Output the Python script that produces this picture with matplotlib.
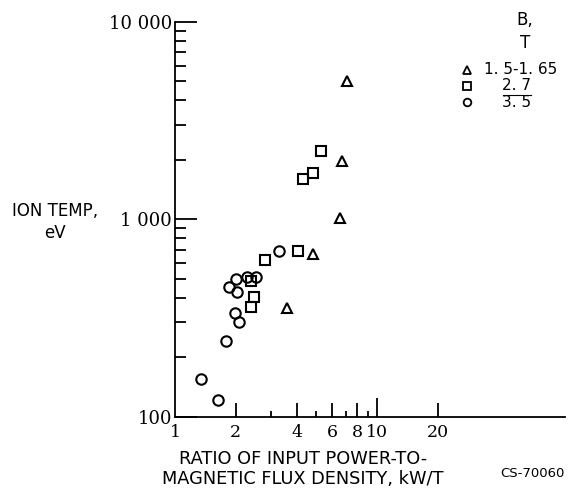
"""Ion temperature vs ratio of input power to magnetic flux density (log-log scatter)."""

import matplotlib.pyplot as plt
from matplotlib.ticker import FixedLocator, NullFormatter

# B = 1.5-1.65 T (triangles)
tri_x = [7.1, 6.7, 6.55, 4.8, 3.6]
tri_y = [5000, 1980, 1020, 670, 355]

# B = 2.7 T (squares)
sq_x = [5.3, 4.8, 4.3, 4.05, 2.8, 2.37, 2.46, 2.39]
sq_y = [2220, 1710, 1590, 690, 620, 486, 404, 360]

# B = 3.5 T (circles)
circ_x = [3.28, 2.26, 2.51, 2.0, 1.85, 2.02, 1.98, 2.07, 1.78, 1.34, 1.64]
circ_y = [690, 512, 512, 500, 454, 430, 336, 302, 241, 156, 121]

x_major = [1, 2, 4, 6, 8, 10, 20]
x_minor = [3, 5, 7, 9]
y_major = [100, 1000, 10000]
y_labels = ["100", "1 000", "10 000"]

legend_rows = [("^", "1. 5-1. 65"), ("s", "2. 7"), ("o", "3. 5")]

TXT = "DejaVu Sans"
NUM = "DejaVu Serif"
W, H = 580, 494


def fx(px):
    return px / W


def fy(py):
    return 1 - py / H


def main() -> int:
    fig = plt.figure(figsize=(5.8, 4.94), dpi=100)
    ax = fig.add_axes([fx(175), fy(416.7), 390 / W, 395 / H])

    style = dict(linestyle="none", markerfacecolor="none", markeredgecolor="black",
                 markeredgewidth=1.5, clip_on=False)
    ax.plot(tri_x, tri_y, marker="^", markersize=7.5, **style)
    ax.plot(sq_x, sq_y, marker="s", markersize=6.8, **style)
    ax.plot(circ_x, circ_y, marker="o", markersize=7.5, **style)

    ax.set_xscale("log")
    ax.set_yscale("log")
    ax.set_xlim(1, 85.2)
    ax.set_ylim(100, 10000)

    ax.spines["top"].set_visible(False)
    ax.spines["right"].set_visible(False)
    for s in ("left", "bottom"):
        ax.spines[s].set_linewidth(1.3)

    ax.xaxis.set_major_locator(FixedLocator(x_major))
    ax.xaxis.set_minor_locator(FixedLocator(x_minor))
    ax.set_xticklabels([str(v) for v in x_major], fontfamily=NUM, fontsize=12.5)
    ax.xaxis.set_minor_formatter(NullFormatter())
    ax.set_yticks(y_major)
    ax.set_yticklabels(y_labels, fontfamily=NUM, fontsize=13)
    ax.yaxis.set_minor_formatter(NullFormatter())

    ax.tick_params(axis="x", which="major", direction="in", length=10, width=1.3, pad=5)
    ax.tick_params(axis="x", which="minor", direction="in", length=4, width=1.3)
    ax.tick_params(axis="y", which="major", direction="in", length=16, width=1.3, pad=2)
    ax.tick_params(axis="y", which="minor", direction="in", length=8, width=1.3)
    # the decade tick at 10 is drawn taller in the original
    ax.xaxis.get_major_ticks()[5].tick1line.set_markersize(14)
    ax.xaxis.get_major_ticks()[0].tick1line.set_visible(False)

    fig.text(fx(55), fy(222), "ION TEMP,\neV", ha="center", va="center",
             fontfamily=TXT, fontsize=12, linespacing=1.26)
    fig.text(fx(303), fy(469),
             "RATIO OF INPUT POWER-TO-\nMAGNETIC FLUX DENSITY, kW/T",
             ha="center", va="center", fontfamily=TXT, fontsize=12.8)
    fig.text(fx(532), fy(473), "CS-70060", ha="center", va="center",
             fontfamily=TXT, fontsize=9.5)

    # legend block, upper right
    fig.text(fx(525), fy(20), "B,", ha="center", va="center", fontfamily=TXT, fontsize=12)
    fig.text(fx(525), fy(43), "T", ha="center", va="center", fontfamily=TXT, fontsize=12)
    for (mk, label), py, tx in zip(legend_rows, [70, 86, 102], [521, 517, 517]):
        fig.lines.append(plt.Line2D([fx(467)], [fy(py)], marker=mk, markersize=5.5,
                                    markerfacecolor="none", markeredgecolor="black",
                                    markeredgewidth=1.3, transform=fig.transFigure))
        fig.text(fx(tx), fy(py), label, ha="center", va="center",
                 fontfamily=TXT, fontsize=11)
    fig.lines.append(plt.Line2D([fx(503), fx(531)], [fy(94.5)] * 2, color="black",
                                linewidth=0.8, transform=fig.transFigure))

    fig.savefig("out.png", dpi=100)
    return 0


if __name__ == "__main__":
    raise SystemExit(main())
